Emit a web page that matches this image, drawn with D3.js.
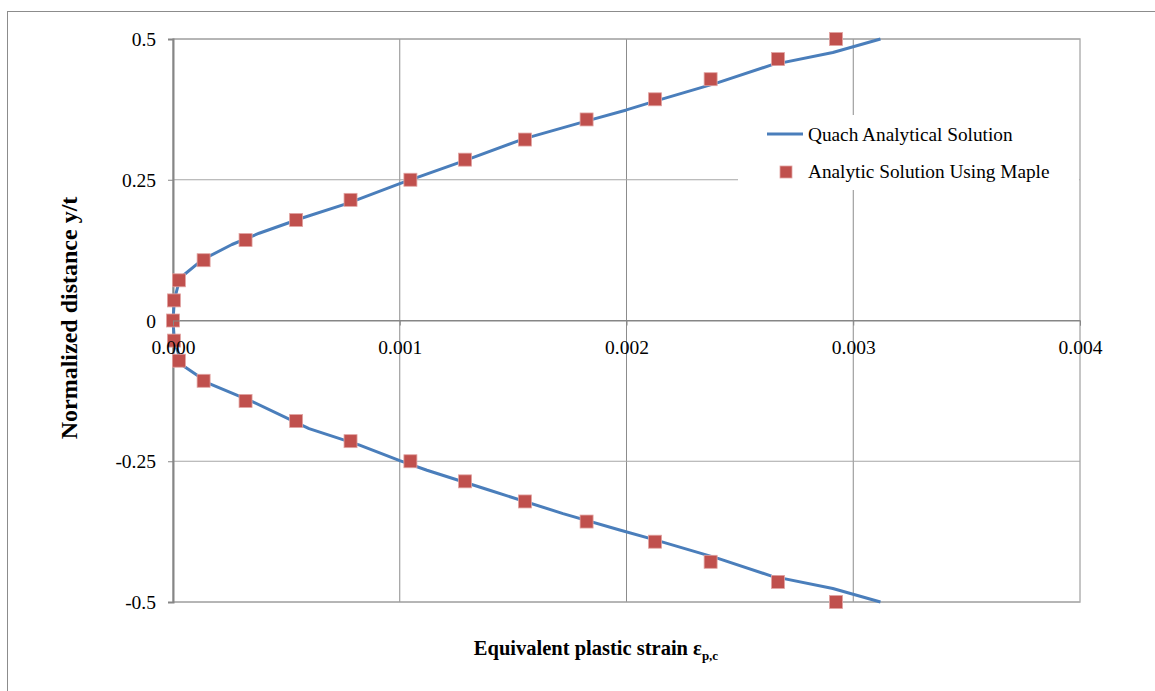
<!DOCTYPE html>
<html>
<head>
<meta charset="utf-8">
<script src="https://cdn.jsdelivr.net/npm/d3@7"></script>
<style>
  body { margin: 0; background: #fff; }
  text { font-family: "Liberation Serif", "Times New Roman", serif; }
</style>
</head>
<body>
<div id="chart"></div>
<script>
var w = 1155;
var h = 691;

// Quach analytical solution (strain, y/t)
var quachStrain = [0.00312, 0.00291, 0.00264, 0.00240, 0.00213, 0.00200, 0.00183, 0.00155, 0.00128, 0.00100, 0.00077, 0.00057, 0.00038, 0.00026, 0.00013, 0.00003, 0.000006,
    0, 0.000006, 0.00004, 0.00016, 0.00035, 0.00060, 0.00082, 0.00100, 0.00112, 0.00140, 0.00172, 0.00197, 0.00213, 0.00240, 0.00264, 0.00291, 0.00312];
var quachY = [0.5, 0.476, 0.454, 0.422, 0.390, 0.374, 0.355, 0.323, 0.283, 0.243, 0.208, 0.182, 0.155, 0.135, 0.108, 0.075, 0.036,
    0, -0.036, -0.079, -0.112, -0.144, -0.192, -0.221, -0.249, -0.266, -0.302, -0.343, -0.372, -0.390, -0.422, -0.454, -0.476, -0.5];

// Analytic solution using Maple (markers)
var mapleStrain = [0.002924, 0.002668, 0.002371, 0.002126, 0.001824, 0.001552, 0.001288, 0.001047, 0.000783, 0.000543, 0.00032, 0.000135, 0.000026, 0.000004,
    0, 0.000004, 0.000026, 0.000135, 0.00032, 0.000543, 0.000783, 0.001047, 0.001288, 0.001552, 0.001824, 0.002126, 0.002371, 0.002668, 0.002924];
var mapleY = [0.5, 0.4643, 0.4286, 0.3929, 0.3571, 0.3214, 0.2857, 0.25, 0.2143, 0.1786, 0.1429, 0.1071, 0.0714, 0.0357,
    0, -0.0357, -0.0714, -0.1071, -0.1429, -0.1786, -0.2143, -0.25, -0.2857, -0.3214, -0.3571, -0.3929, -0.4286, -0.4643, -0.5];

var xTicks = [0, 0.001, 0.002, 0.003, 0.004];
var yTicks = [-0.5, -0.25, 0, 0.25, 0.5];
var seriesNames = ["Quach Analytical Solution", "Analytic Solution Using Maple"];

var quach = quachStrain.map(function (d, i) { return { x: d, y: quachY[i] }; });
var maple = mapleStrain.map(function (d, i) { return { x: d, y: mapleY[i] }; });

var plotL = 173, plotR = 1080, plotT = 39, plotB = 602;
var fs = 19.5;

var xScale = d3.scaleLinear().domain([0, 0.004]).range([plotL, plotR]);
var yScale = d3.scaleLinear().domain([-0.5, 0.5]).range([plotB, plotT]);

var svg = d3.select("#chart").append("svg")
    .attr("width", w)
    .attr("height", h);

// outer chart border
svg.append("rect")
    .attr("x", 7.5).attr("y", 11.5)
    .attr("width", 1200).attr("height", 700)
    .attr("fill", "none").attr("stroke", "#8c8c8c").attr("stroke-width", 1);

// plot area border
svg.append("rect")
    .attr("x", plotL).attr("y", plotT)
    .attr("width", plotR - plotL).attr("height", plotB - plotT)
    .attr("fill", "none").attr("stroke", "#b3b3b3").attr("stroke-width", 1.5);

// gridlines
svg.append("g").selectAll("line").data(xTicks.slice(1, 4)).enter().append("line")
    .attr("x1", function (d) { return xScale(d); }).attr("x2", function (d) { return xScale(d); })
    .attr("y1", plotT).attr("y2", plotB)
    .attr("stroke", "#8c8c8c").attr("stroke-width", 1);
svg.append("g").selectAll("line").data(yTicks).enter().append("line")
    .attr("x1", plotL).attr("x2", plotR)
    .attr("y1", function (d) { return yScale(d); }).attr("y2", function (d) { return yScale(d); })
    .attr("stroke", function (d) { return d === 0 ? "#868686" : "#a6a6a6"; })
    .attr("stroke-width", 1);

// y axis
var yAxis = d3.axisLeft(yScale).tickValues(yTicks).tickSize(5).tickPadding(12)
    .tickFormat(function (d) { return d === 0 ? "0" : String(d); });
var gy = svg.append("g").attr("transform", "translate(" + plotL + ",0)").call(yAxis);
gy.select(".domain").attr("stroke", "#868686").attr("stroke-width", 2);
gy.selectAll(".tick line").attr("stroke", "#868686");
gy.selectAll(".tick text").attr("font-size", fs).attr("fill", "#000")
    .attr("font-family", "Liberation Serif").attr("dy", "0.34em");

// x axis at y = 0
var xAxis = d3.axisBottom(xScale).tickValues(xTicks).tickSize(5).tickPadding(15)
    .tickFormat(d3.format(".3f"));
var gx = svg.append("g").attr("transform", "translate(0," + yScale(0) + ")").call(xAxis);
gx.select(".domain").attr("stroke", "#868686").attr("stroke-width", 1);
gx.selectAll(".tick line").attr("stroke", "#868686");

// line
var line = d3.line()
    .x(function (d) { return xScale(d.x); })
    .y(function (d) { return yScale(d.y); });
svg.append("path")
    .datum(quach)
    .attr("fill", "none")
    .attr("stroke", "#4a7ebb")
    .attr("stroke-width", 3)
    .attr("stroke-linejoin", "round")
    .attr("d", line);

// markers
var ms = 13;
svg.append("g").selectAll("rect").data(maple).enter().append("rect")
    .attr("x", function (d) { return xScale(d.x) - ms / 2; })
    .attr("y", function (d) { return yScale(d.y) - ms / 2; })
    .attr("width", ms).attr("height", ms)
    .attr("fill", "#c0504d")
    .attr("stroke", "#e2a4a2").attr("stroke-width", 0.8);

// x tick labels drawn on top of markers
gx.raise();
gx.selectAll(".tick text").attr("font-size", fs).attr("fill", "#000")
    .attr("font-family", "Liberation Serif");

// legend
var lg = svg.append("g");
lg.append("rect").attr("x", 738).attr("y", 115).attr("width", 341).attr("height", 75).attr("fill", "#fff");
lg.append("line").attr("x1", 767).attr("x2", 803).attr("y1", 134).attr("y2", 134)
    .attr("stroke", "#4a7ebb").attr("stroke-width", 3);
lg.append("rect").attr("x", 780).attr("y", 166).attr("width", 12).attr("height", 12)
    .attr("fill", "#c0504d").attr("stroke", "#e2a4a2").attr("stroke-width", 0.8);
lg.selectAll("text").data(seriesNames).enter().append("text")
    .attr("x", 808)
    .attr("y", function (d, i) { return 141 + i * 37; })
    .attr("font-size", 19.3)
    .text(function (d) { return d; });

// axis titles
var xt = svg.append("text")
    .attr("x", 596).attr("y", 655)
    .attr("text-anchor", "middle")
    .attr("font-size", 20.5).attr("font-weight", "bold");
xt.append("tspan").text("Equivalent plastic strain ε");
xt.append("tspan").attr("font-size", 13).attr("dy", 5).text("p,c");

svg.append("text")
    .attr("transform", "translate(77,318) rotate(-90)")
    .attr("text-anchor", "middle")
    .attr("font-size", 24).attr("font-weight", "bold")
    .text("Normalized distance y/t");
</script>
</body>
</html>
